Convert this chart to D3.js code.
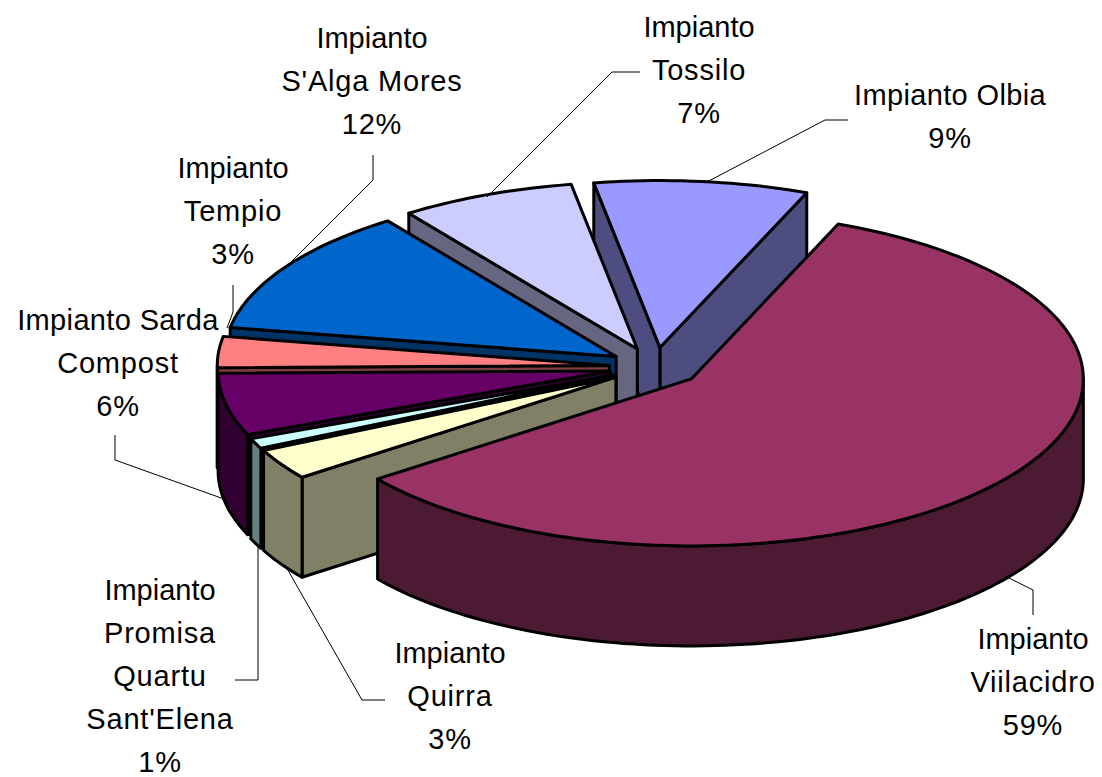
<!DOCTYPE html>
<html><head><meta charset="utf-8">
<script src="https://cdn.jsdelivr.net/npm/d3@7/dist/d3.min.js"></script>
<style>html,body{margin:0;padding:0;background:#fff}svg{display:block}text{font-family:"Liberation Sans",Arial,sans-serif;fill:#000}</style>
</head><body><svg id="c" width="1102" height="777"></svg>
<script>
// Clockwise from the first slice
const names = [["Impianto","Viilacidro"],["Impianto","Quirra"],["Impianto","Promisa","Quartu","Sant'Elena"],["Impianto Sarda","Compost"],["Impianto","Tempio"],["Impianto","S'Alga Mores"],["Impianto","Tossilo"],["Impianto Olbia"]];
const values = [58.6,3,1,6,3,12.3,7.2,8.8];
const topColors = ["#993366","#FFFFCC","#CCFFFF","#660066","#FF8080","#0066CC","#CCCCFF","#9999FF"];
const sideColors = ["#4D1A33","#808066","#668080","#330033","#804040","#003366","#666680","#4D4D80"];
// layout only
const labelAnchors = [[1033,649],[450,663],[160,600],[118,330],[233,178],[372,48],[699,37],[950,105]];
const leaders = [
 [[1005,576],[1033,590],[1033,615]],
 [[285,565],[362,700],[385,700]],
 [[258,545],[258,680],[235,680]],
 [[224,499],[115,460],[115,435]],
 [[227,328],[233,312],[233,285]],
 [[285,268],[373,180],[373,155]],
 [[487,197],[612,72],[640,72]],
 [[705,183],[825,120],[848,120]]
];
const deg = Math.PI/180;
const cx=655, cy=367, rx=392, ry=167, explode=0.117, depth=100;
const x = d3.scaleLinear().domain([-1,1]).range([cx-rx,cx+rx]);
const y = d3.scaleLinear().domain([-1,1]).range([cy-ry,cy+ry]);
const arcs = d3.pie().sort(null).startAngle(22*deg).endAngle(382*deg)(values);
const line = d3.line();
const svg = d3.select("#c");

function pt(center, a, r, dz){ // a clockwise from 12 o'clock
  return [x(center[0]+r*Math.sin(a)), y(center[1]-r*Math.cos(a))+dz];
}
function sample(a0,a1){
  const n=Math.max(2,Math.ceil(Math.abs(a1-a0)/(1.5*deg)));
  return d3.range(n+1).map(i=>a0+(a1-a0)*i/n);
}
const order = d3.range(values.length).reverse(); // back to front
const stroke = {stroke:"#000","stroke-width":3,"stroke-linejoin":"round"};
function draw(d,fill){
  const p=svg.append("path").attr("d",d).attr("fill",fill);
  Object.entries(stroke).forEach(([k,v])=>p.attr(k,v));
}
order.forEach(i=>{
  const s=arcs[i], mid=(s.startAngle+s.endAngle)/2;
  const c=[explode*Math.sin(mid),-explode*Math.cos(mid)];
  const apex=pt(c,0,0,0), apexB=pt(c,0,0,depth);
  // visible cut faces
  if(Math.sin(s.endAngle)>0){
    draw(line([apex,pt(c,s.endAngle,1,0),pt(c,s.endAngle,1,depth),apexB])+"Z",sideColors[i]);
  }
  if(Math.sin(s.startAngle)<0){
    draw(line([apex,pt(c,s.startAngle,1,0),pt(c,s.startAngle,1,depth),apexB])+"Z",sideColors[i]);
  }
  // outer wall (front half only)
  const ranges=[[90*deg,270*deg],[450*deg,630*deg]];
  ranges.forEach(([lo,hi])=>{
    const a0=Math.max(lo,s.startAngle), a1=Math.min(hi,s.endAngle);
    if(a1>a0){
      const as=sample(a0,a1);
      const pts=as.map(a=>pt(c,a,1,0)).concat(as.slice().reverse().map(a=>pt(c,a,1,depth)));
      draw(line(pts)+"Z",sideColors[i]);
    }
  });
  // top face
  const top=[apex].concat(sample(s.startAngle,s.endAngle).map(a=>pt(c,a,1,0)));
  draw(line(top)+"Z",topColors[i]);
});
// leaders
leaders.forEach(l=>svg.append("path").attr("d",line(l)).attr("fill","none").attr("stroke","#000").attr("stroke-width",1));
// labels
names.forEach((n,i)=>{
  const lines=n.concat([Math.round(values[i])+"%"]);
  const [lx,ly]=labelAnchors[i];
  const t=svg.append("text").attr("text-anchor","middle").attr("font-size",29);
  lines.forEach((txt,k)=>t.append("tspan").attr("x",lx).attr("y",ly+k*43)
    .attr("letter-spacing",txt==="Impianto"?0:(txt.startsWith("Impianto ")?0.35:0.8)).text(txt));
});
</script></body></html>
